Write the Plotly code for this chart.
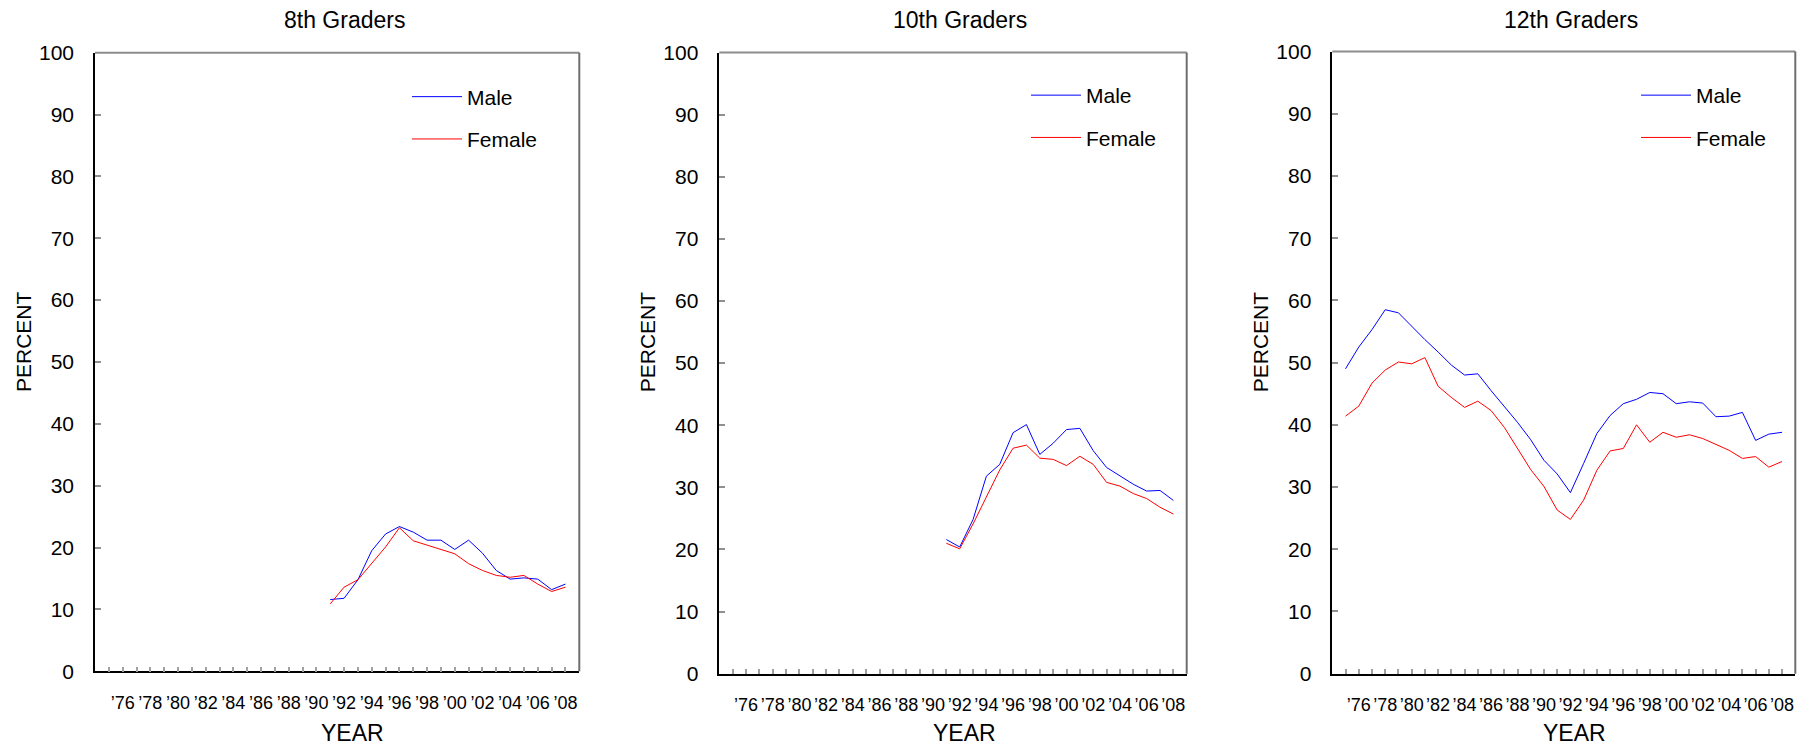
import plotly.graph_objects as go

years_8_10 = list(range(1991, 2009))
years_12 = list(range(1975, 2009))

male_8 = [11.6, 11.8, 14.8, 19.5, 22.2, 23.4, 22.5, 21.2, 21.2, 19.7, 21.2, 19.1, 16.3, 14.9, 15.1, 14.9, 13.2, 14.1]
female_8 = [10.9, 13.6, 14.8, 17.5, 20.1, 23.2, 21.1, 20.4, 19.7, 19.0, 17.4, 16.3, 15.5, 15.2, 15.5, 14.1, 12.9, 13.6]

male_10 = [21.6, 20.4, 24.8, 31.8, 33.7, 38.8, 40.1, 35.3, 37.1, 39.3, 39.5, 35.9, 33.2, 31.9, 30.5, 29.4, 29.5, 27.9]
female_10 = [21.0, 20.1, 24.1, 28.5, 32.8, 36.3, 36.8, 34.7, 34.5, 33.5, 35.0, 33.7, 30.8, 30.2, 29.0, 28.2, 26.8, 25.7]

male_12 = [49.0, 52.5, 55.3, 58.5, 58.0, 55.8, 53.7, 51.7, 49.6, 48.0, 48.2, 45.5, 43.0, 40.4, 37.6, 34.3, 32.1, 29.1,
           33.8, 38.6, 41.5, 43.4, 44.1, 45.2, 45.0, 43.4, 43.7, 43.5, 41.3, 41.4, 42.0, 37.5, 38.5, 38.8]
female_12 = [41.4, 43.0, 46.7, 48.8, 50.1, 49.8, 50.8, 46.2, 44.4, 42.8, 43.8, 42.3, 39.6, 36.2, 32.8, 30.1, 26.3, 24.8,
             27.9, 32.7, 35.8, 36.2, 40.0, 37.2, 38.8, 38.0, 38.4, 37.8, 36.8, 35.9, 34.6, 34.9, 33.2, 34.1]

panel_titles = ["8th Graders", "10th Graders", "12th Graders"]
tick_years = list(range(1975, 2009))
tick_text = [("\u2019%02d" % (y % 100)) if y % 2 == 0 else "" for y in tick_years]
y_ticks = list(range(0, 101, 10))

# The page body adds an 8px margin, so the figure is drawn 8px smaller and all
# pixel positions below (measured on the 1811x750 window) are shifted by it.
OFF = 8
W, H = 1811 - OFF, 750 - OFF
FONT = "Arial, 'Liberation Sans', sans-serif"
BLUE = "#0000FF"
RED = "#FF0000"


def px(x):
    return (x - OFF) / W


def py(y):
    return 1 - (y - OFF) / H


# panel boxes in window pixels: (left, right, top, bottom)
boxes = [(95, 579.3, 52.7, 671.3), (719.3, 1186.7, 52.5, 673.7), (1332.3, 1795.3, 51.5, 673.7)]
legend_pos = [(415, 92.5), (1034, 91), (1644, 91)]
year_x = [352.5, 964, 1574]

series = [(years_8_10, male_8, female_8), (years_8_10, male_10, female_10), (years_12, male_12, female_12)]

fig = go.Figure()
layout = dict(
    width=W, height=H, margin=dict(l=0, r=0, t=0, b=0, pad=0, autoexpand=False),
    paper_bgcolor="white", plot_bgcolor="white",
    font=dict(family=FONT, color="black"),
    showlegend=True,
)
annotations = []
shapes = []
for i, ((l, r, t, b), (yrs, m, f)) in enumerate(zip(boxes, series)):
    n = "" if i == 0 else str(i + 1)
    leg = "legend" if i == 0 else "legend%d" % (i + 1)
    fig.add_trace(go.Scatter(x=yrs, y=m, mode="lines", name="Male", line=dict(color=BLUE, width=1),
                             xaxis="x" + n, yaxis="y" + n, legend=leg, legendgroup="m%d" % i))
    fig.add_trace(go.Scatter(x=yrs, y=f, mode="lines", name="Female", line=dict(color=RED, width=1),
                             xaxis="x" + n, yaxis="y" + n, legend=leg, legendgroup="f%d" % i))
    layout["xaxis" + n] = dict(
        domain=[px(l), px(r)], anchor="y" + n, range=[1974, 2009],
        tickmode="array", tickvals=tick_years, ticktext=tick_text,
        ticks="inside", ticklen=5, tickwidth=1.5, tickcolor="#a0a0a0",
        showline=True, linecolor="black", linewidth=1.5, showgrid=False, zeroline=False,
        tickfont=dict(size=18, family=FONT, color="black"), ticklabelstandoff=14,
        automargin=False,
    )
    layout["yaxis" + n] = dict(
        domain=[py(b), py(t)], anchor="x" + n, range=[0, 100],
        tickmode="array", tickvals=y_ticks,
        ticks="inside", ticklen=6, tickwidth=1.5, tickcolor="#909090",
        showline=True, linecolor="black", linewidth=1.5, showgrid=False, zeroline=False,
        tickfont=dict(size=21, family=FONT, color="black"), ticklabelstandoff=15,
        automargin=False,
    )
    lx, ly = legend_pos[i]
    layout[leg] = dict(
        x=px(lx - 8), y=py(ly - 16), xanchor="left", yanchor="top",
        bgcolor="rgba(0,0,0,0)", borderwidth=0, tracegroupgap=12, itemwidth=50,
        font=dict(size=21, family=FONT, color="black"),
    )
    # top and right gray frame
    shapes.append(dict(type="line", xref="x%s domain" % n, yref="y%s domain" % n,
                       x0=0, x1=1, y0=1, y1=1, line=dict(color="#8c8c8c", width=2)))
    shapes.append(dict(type="line", xref="x%s domain" % n, yref="y%s domain" % n,
                       x0=1, x1=1, y0=0, y1=1, line=dict(color="#6e6e6e", width=2)))
    annotations.append(dict(text=panel_titles[i], xref="paper", yref="paper",
                            x=px((l + r) / 2 + 7), y=py(20), xanchor="center", yanchor="middle",
                            showarrow=False, font=dict(size=23, family=FONT, color="black")))
    annotations.append(dict(text="PERCENT", xref="paper", yref="paper", textangle=-90,
                            x=px(l - 72), y=py(342), xanchor="center", yanchor="middle",
                            showarrow=False, font=dict(size=21, family=FONT, color="black")))
    annotations.append(dict(text="YEAR", xref="paper", yref="paper",
                            x=px(year_x[i]), y=py(733), xanchor="center", yanchor="middle",
                            showarrow=False, font=dict(size=23, family=FONT, color="black")))

layout["annotations"] = annotations
layout["shapes"] = shapes
fig.update_layout(**layout)
fig.write_html("out.html")
